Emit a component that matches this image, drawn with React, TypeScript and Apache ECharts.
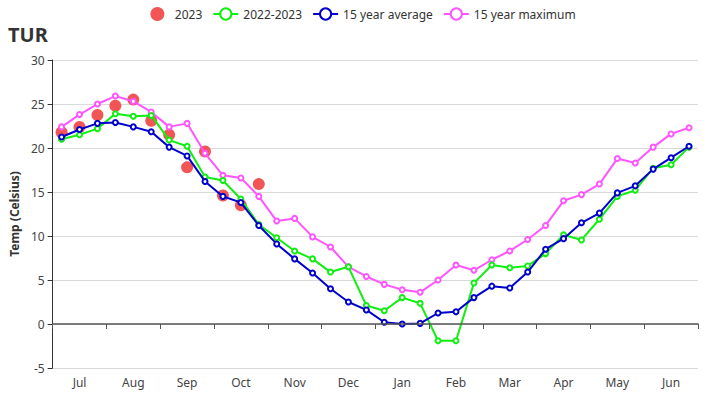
import React, { useEffect, useRef } from "react";
import * as echarts from "echarts";

const months = ["Jul", "Aug", "Sep", "Oct", "Nov", "Dec", "Jan", "Feb", "Mar", "Apr", "May", "Jun"];
const dekads: string[] = [];
months.forEach((m) => { for (let d = 1; d <= 3; d++) dekads.push(m + " " + d); });

const yearTicks = [-5, 0, 5, 10, 15, 20, 25, 30];

const current2023 = [21.8, 22.4, 23.75, 24.8, 25.5, 23.1, 21.5, 17.8, 19.6, 14.6, 13.5, 15.9];

const season2022_2023 = [
  21.0, 21.5, 22.2, 23.9, 23.6, 23.7, 20.9, 20.2, 16.7, 16.3, 14.2, 11.3,
  9.8, 8.3, 7.4, 5.9, 6.5, 2.1, 1.5, 3.0, 2.35, -1.9, -1.9, 4.65,
  6.7, 6.4, 6.6, 8.0, 10.15, 9.55, 11.9, 14.5, 15.2, 17.7, 18.1, 20.1,
];

const avg15 = [
  21.25, 22.1, 22.8, 22.9, 22.4, 21.85, 20.1, 19.1, 16.2, 14.5, 13.8, 11.2,
  9.1, 7.4, 5.8, 4.0, 2.5, 1.6, 0.2, 0.0, 0.07, 1.25, 1.4, 3.0,
  4.3, 4.1, 5.9, 8.5, 9.7, 11.5, 12.6, 14.9, 15.7, 17.6, 18.9, 20.2,
];

const max15 = [
  22.4, 23.8, 25.0, 25.9, 25.3, 24.1, 22.4, 22.8, 19.4, 16.9, 16.6, 14.5,
  11.7, 12.0, 9.9, 8.75, 6.5, 5.4, 4.5, 3.9, 3.6, 5.0, 6.7, 6.1,
  7.3, 8.3, 9.6, 11.2, 14.0, 14.7, 15.9, 18.8, 18.3, 20.1, 21.6, 22.3,
];

const FONT = "Noto Sans";

export default function App() {
  const ref = useRef<HTMLDivElement>(null);
  useEffect(() => {
    if (!ref.current) return;
    const chart = echarts.init(ref.current, undefined, { renderer: "svg" });
    const lineSeries = (name: string, data: number[], color: string, z: number) => ({
      name,
      type: "line",
      data,
      xAxisIndex: 0,
      symbol: "emptyCircle",
      symbolSize: 5,
      z,
      itemStyle: { color, borderWidth: 1 },
      lineStyle: { color, width: 2 },
    });
    chart.setOption({
      animation: false,
      textStyle: { fontFamily: FONT },
      title: {
        text: "TUR",
        left: 3,
        top: 19,
        textStyle: { fontSize: 20, fontWeight: "bold", color: "#333", fontFamily: FONT },
      },
      legend: {
        top: 2,
        left: "center",
        itemWidth: 25,
        itemHeight: 14,
        itemGap: 10,
        textStyle: { fontSize: 12, color: "#333", fontFamily: FONT },
        data: ["2023", "2022-2023", "15 year average", "15 year maximum"],
      },
      grid: { left: 45, right: 28, top: 60, bottom: 32 },
      xAxis: [
        {
          type: "category",
          data: dekads,
          boundaryGap: true,
          axisLine: { show: true, onZero: true, lineStyle: { color: "#555", width: 1.5 } },
          axisTick: { show: true, interval: (i: number) => i % 3 === 0, length: 5, lineStyle: { color: "#555" } },
          axisLabel: { show: false },
          splitLine: { show: false },
          z: 5,
        },
        {
          type: "category",
          data: dekads,
          boundaryGap: true,
          position: "bottom",
          axisLine: { show: false, onZero: false },
          axisTick: { show: false },
          axisLabel: {
            show: true,
            interval: (i: number) => i % 3 === 1,
            formatter: (v: string) => v.split(" ")[0],
            color: "#444",
            fontSize: 12,
            margin: 8,
            fontFamily: FONT,
          },
          splitLine: { show: false },
        },
      ],
      yAxis: {
        type: "value",
        min: yearTicks[0],
        max: yearTicks[yearTicks.length - 1],
        interval: 5,
        name: "Temp (Celsius)",
        nameLocation: "middle",
        nameGap: 29,
        nameTextStyle: { fontWeight: "bold", fontSize: 12, color: "#333", fontFamily: FONT },
        axisLine: { show: true, lineStyle: { color: "#333" } },
        axisTick: { show: true, length: 5, lineStyle: { color: "#333" } },
        axisLabel: { color: "#444", fontSize: 12, fontFamily: FONT },
        splitLine: { show: true, lineStyle: { color: "#d9d9d9", width: 1 } },
      },
      series: [
        {
          name: "2023",
          type: "scatter",
          data: current2023,
          xAxisIndex: 0,
          symbol: "circle",
          symbolSize: 12,
          z: 1,
          itemStyle: { color: "#f04646", opacity: 0.92 },
        },
        lineSeries("15 year maximum", max15, "#ff55ff", 2),
        lineSeries("2022-2023", season2022_2023, "#11ee11", 3),
        lineSeries("15 year average", avg15, "#0000cc", 4),
      ],
    });
    return () => chart.dispose();
  }, []);
  return <div ref={ref} style={{ position: "absolute", left: 0, top: 0, width: 726, height: 400 }} />;
}
